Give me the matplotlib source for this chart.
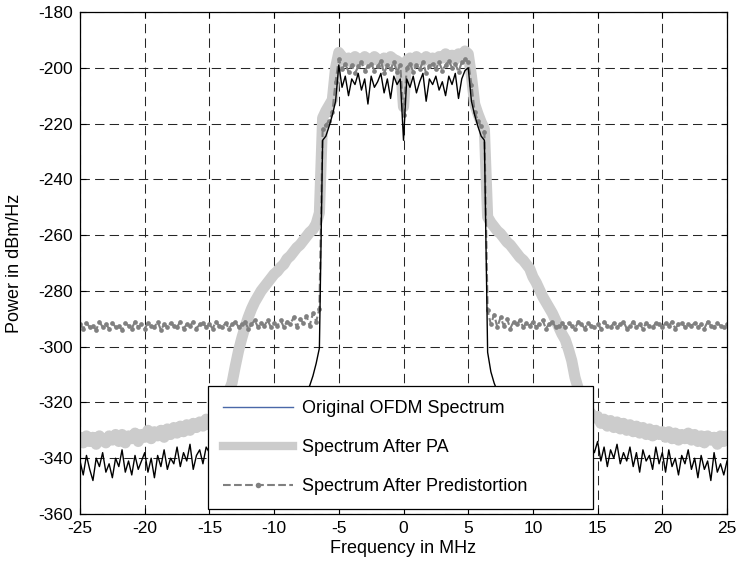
import numpy as np
import matplotlib
matplotlib.use("Agg")
import matplotlib.pyplot as plt
from matplotlib.lines import Line2D

plt.rcParams["font.family"] = ["Liberation Sans", "DejaVu Sans"]
plt.rcParams["axes.unicode_minus"] = False

# frequency bins in MHz (0.25 MHz spacing, -25 ... 25)
freq_mhz = np.arange(-25, 25.01, 0.25)

# original OFDM spectrum, dBm/Hz (one row = 2.5 MHz)
original = [
    -341, -346, -339, -344, -348, -340, -343, -338, -345, -342,
    -347, -340, -343, -337, -345, -341, -346, -339, -344, -341,
    -338, -345, -340, -347, -339, -343, -337, -344, -340, -342,
    -336, -343, -338, -341, -335, -344, -339, -337, -342, -336,
    -338, -334, -339, -335, -337, -333, -336, -332, -335, -331,
    -333, -330, -332, -329, -331, -328, -330, -327, -329, -326,
    -328, -325, -326, -323, -324, -321, -322, -319, -320, -317,
    -316, -314, -310.5, -306, -300.5, -226, -224.5, -221, -217, -212,
    -199, -207, -203, -210, -204, -206, -202, -208, -204, -213,
    -203, -207, -205, -202, -209, -204, -211, -203, -206, -204,
    -226, -204, -207, -203, -209, -205, -202, -212, -204, -206,
    -203, -208, -205, -210, -203, -206, -202, -211, -204, -201,
    -200, -212, -217, -221, -224.5, -226, -302, -309, -313, -316,
    -317, -319, -320, -322, -321, -324, -323, -326, -325, -327,
    -326, -329, -327, -330, -328, -331, -329, -332, -330, -333,
    -331, -334, -332, -335, -333, -336, -334, -337, -335, -338,
    -334, -341, -336, -343, -337, -340, -335, -342, -338, -341,
    -336, -343, -338, -345, -337, -341, -339, -344, -336, -342,
    -338, -345, -337, -343, -340, -346, -339, -342, -337, -344,
    -340, -347, -339, -344, -341, -348, -338, -345, -342, -346,
    -341,
]

# spectrum after the power amplifier
after_pa = [
    -332.5, -334.5, -332, -334, -332.5, -335, -332, -333.5, -334.5, -332,
    -333.5, -331.5, -334, -331.5, -334.5, -332, -333, -331, -334, -331.5,
    -332.5, -330, -333, -330.5, -332, -330, -332.5, -329.5, -331.5, -329,
    -331, -328.5, -330.5, -328, -330, -327.5, -329, -327, -328.5, -326,
    -328, -325.5, -327, -324.5, -322, -319.5, -316, -313, -307, -301.5,
    -297, -293, -289.5, -286.5, -284, -282, -280, -278.5, -277, -275.5,
    -274, -273, -271.5, -270.5, -268.5, -267.5, -266, -264.5, -263.5, -262,
    -260.5, -259, -258, -256, -252, -218, -215.5, -213.5, -211.5, -200,
    -194.5, -196, -197.5, -196.5, -198, -196, -197, -197.5, -196, -197,
    -197.5, -196, -197, -198, -196.5, -197.5, -196, -197, -197.5, -198.5,
    -214, -197.5, -196.5, -198, -196, -197, -197.5, -196, -197, -196.5,
    -197.5, -196, -196.5, -195, -197, -195.5, -197, -195, -196, -194,
    -195, -203, -213, -216.5, -219.5, -222, -253.5, -255.5, -257, -258.5,
    -259.5, -261, -262.5, -263.5, -265, -266.5, -268, -269, -270.5, -272,
    -275, -277, -279.5, -282, -284, -286, -288, -290.5, -293, -295.5,
    -297.5, -301, -305, -311, -315, -318.5, -321, -322.5, -324, -325.5,
    -325, -327.5, -326, -328.5, -326.5, -329, -327, -329.5, -327.5, -330,
    -328, -330.5, -328.5, -331, -329, -331.5, -329.5, -332, -330, -331.5,
    -330.5, -332.5, -330.5, -333, -331, -333.5, -331.5, -333, -331, -333.5,
    -331.5, -334, -332, -334.5, -332, -333.5, -332.5, -335, -332, -334,
    -332,
]

# spectrum after predistortion
after_pd = [
    -292, -293.5, -291.5, -293, -292.5, -294, -291, -293, -292, -293.5,
    -291.5, -293, -292.5, -294, -291.5, -292.5, -293.5, -291, -293, -292,
    -293.5, -291.5, -292.5, -293, -291, -294, -292, -293, -291.5, -292.5,
    -293, -291, -293.5, -292, -292.5, -291, -293.5, -292, -291.5, -293,
    -292, -293.5, -291, -292.5, -293, -291.5, -293.5, -292, -291, -293,
    -292, -291, -293.5, -292, -290.5, -293, -291.5, -292.5, -290.5, -293,
    -291.5, -292.5, -290.5, -293, -291, -292, -289.5, -293, -290, -291.5,
    -289, -292.5, -288, -291, -286.5, -222, -220.5, -219, -216, -205,
    -197, -200.5, -198.5, -201.5, -199, -202, -199.5, -198, -201, -199.5,
    -198.5, -201, -199.5, -197.5, -202, -199, -200.5, -198, -201.5, -199,
    -217, -200, -198.5, -201.5, -199, -200.5, -198, -202, -199.5, -198.5,
    -200.5, -198, -201, -199, -197.5, -200, -198.5, -201.5, -198, -197,
    -198, -206, -216, -219, -221, -223, -287, -292, -288.5, -293,
    -289.5, -292.5, -290, -293.5, -291, -292, -290.5, -293, -291.5, -292.5,
    -291, -293, -292, -290.5, -293.5, -292, -291, -293, -292.5, -291.5,
    -293, -291.5, -292.5, -293.5, -291, -292, -293.5, -291.5, -292.5, -293,
    -292, -293.5, -291, -292.5, -293, -291.5, -293, -292, -291, -293.5,
    -292.5, -291, -293, -292, -293.5, -291.5, -292.5, -293, -291.5, -292,
    -293, -291.5, -292.5, -291, -293.5, -292, -291.5, -293, -292, -292.5,
    -291.5, -293, -292, -293.5, -291, -292.5, -293, -291.5, -292.5, -293,
    -292,
]

x_ticks = np.arange(-25, 26, 5)
y_ticks = np.arange(-360, -179, 20)

pa_color = "#cccccc"
pd_color = "#808080"

fig = plt.figure(figsize=(7.36, 5.61), dpi=100)
ax = fig.add_axes([0.1087, 0.0838, 0.8791, 0.8948])

ax.plot(freq_mhz, after_pa, color=pa_color, linewidth=8, solid_joinstyle="round",
        solid_capstyle="round")
ax.plot(freq_mhz, after_pd, color=pd_color, linestyle="--", linewidth=1.5,
        marker="o", markersize=3.4, markeredgewidth=0)
ax.plot(freq_mhz, original, color="black", linewidth=1.0)

ax.set_xlim(-25, 25)
ax.set_ylim(-360, -180)
ax.set_xticks(x_ticks)
ax.set_yticks(y_ticks)
ax.tick_params(direction="in", length=4, width=0.8, top=True, right=True,
               labelsize=12.5, pad=5)
ax.grid(True, color="0.15", linestyle=(0, (9, 5)), linewidth=0.75)
ax.set_axisbelow(True)
for sp in ax.spines.values():
    sp.set_linewidth(0.9)

ax.set_xlabel("Frequency in MHz", fontsize=13)
ax.set_ylabel("Power in dBm/Hz", fontsize=13)
ax.xaxis.set_label_coords(0.5, -0.052)
ax.yaxis.set_label_coords(-0.088, 0.5)

handles = [
    Line2D([], [], color="#4a68a8", linewidth=1),
    Line2D([], [], color=pa_color, linewidth=6),
    Line2D([], [], color=pd_color, linestyle="--", linewidth=1.5,
           marker="o", markersize=4, markeredgewidth=0),
]
labels = ["Original OFDM Spectrum", "Spectrum After PA",
          "Spectrum After Predistortion"]
leg = ax.legend(handles, labels, loc="lower left",
                bbox_to_anchor=(0.1983, 0.0094, 0.595, 0.2576), mode="expand",
                borderaxespad=0, fontsize=13, numpoints=1, handlelength=3.9,
                handletextpad=0.5, labelspacing=1.2, borderpad=0.8,
                fancybox=False, framealpha=1, edgecolor="black")
leg.get_frame().set_linewidth(0.9)

fig.savefig("out.png", dpi=100)
